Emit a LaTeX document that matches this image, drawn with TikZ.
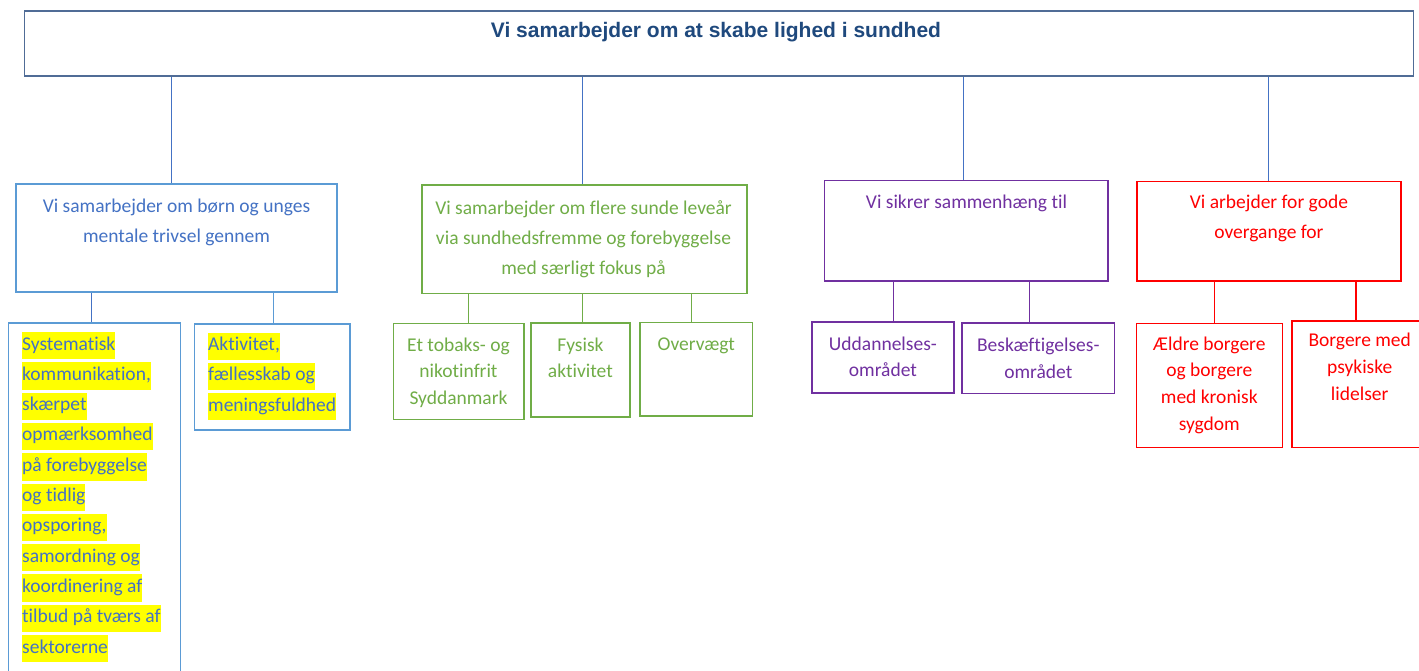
\documentclass[tikz,border=0pt]{standalone}
\usepackage{fontspec}
\setmainfont{Carlito}[Ligatures=NoCommon]
\newfontfamily\titlefont{Liberation Sans}
\definecolor{bluetxt}{RGB}{68,114,196}
\definecolor{blueline}{RGB}{91,155,213}
\definecolor{blueconn}{RGB}{68,114,196}
\definecolor{greenc}{RGB}{112,173,71}
\definecolor{purplec}{RGB}{112,48,160}
\definecolor{redc}{RGB}{255,0,0}
\definecolor{navy}{RGB}{31,73,125}
\definecolor{topline}{RGB}{80,108,150}
\definecolor{hl}{RGB}{255,255,0}
\begin{document}
\begin{tikzpicture}[x=1pt,y=-1pt,
  box/.style={draw, rectangle, inner sep=0pt, line width=1.6pt, fill=white},
  txt/.style={inner sep=0pt, anchor=base, font=\fontsize{19.5}{23}\selectfont},
  hltxt/.style={txt, anchor=base west, fill=hl, text height=18pt, text depth=9.3pt, text=bluetxt},
  conn/.style={line width=0.9pt},
  bluebox/.style={box, draw=blueline},
  greenbox/.style={box, draw=greenc},
  purplebox/.style={box, draw=purplec},
  redbox/.style={box, draw=redc},
]
\useasboundingbox[fill=white] (0,0) rectangle (1419,671);
\begin{scope}
\clip (0,0) rectangle (1419,671);
% top box
\node[box, draw=topline, line width=1.4pt, minimum width=1389pt, minimum height=65pt] (top) at (719,43.5) {};
\node[inner sep=0pt, anchor=base, font=\titlefont\bfseries\fontsize{21}{24}\selectfont, text=navy] (title) at (716,37.3) {Vi samarbejder om at skabe lighed i sundhed};

% level 2 boxes
\node[bluebox, minimum width=321pt, minimum height=108pt] (b1) at (176.5,238) {};
\node[greenbox, minimum width=325pt, minimum height=108.3pt] (g) at (584.2,239.2) {};
\node[purplebox, minimum width=283.5pt, minimum height=100pt] (p) at (966.3,230.7) {};
\node[redbox, minimum width=264pt, minimum height=99.3pt] (r) at (1268.9,231.3) {};

\foreach \t [count=\i from 0] in {Vi samarbejder om børn og unges, mentale trivsel gennem}
  \node[txt, text=bluetxt] (b1t\i) at (176.5,{212.7+\i*30}) {\t};
\foreach \t [count=\i from 0] in {Vi samarbejder om flere sunde leveår, via sundhedsfremme og forebyggelse, med særligt fokus på}
  \node[txt, text=greenc] (gt\i) at (583.5,{214.5+\i*30}) {\t};
\node[txt, text=purplec] (pt0) at (966.5,208.3) {Vi sikrer sammenhæng til};
\foreach \t [count=\i from 0] in {Vi arbejder for gode, overgange for}
  \node[txt, text=redc] (rt\i) at (1268.9,{208.3+\i*30}) {\t};

% level 3 boxes
\node[bluebox, minimum width=172pt, minimum height=377pt] (b11) at (94.3,511.5) {};
\node[bluebox, minimum width=155.7pt, minimum height=106pt] (b12) at (272.2,377) {};
\node[greenbox, minimum width=130.7pt, minimum height=96pt] (g1) at (458.7,371.3) {};
\node[greenbox, minimum width=99.3pt, minimum height=93.7pt] (g2) at (580.4,369.9) {};
\node[greenbox, minimum width=112.3pt, minimum height=93.4pt] (g3) at (696.2,369) {};
\node[purplebox, minimum width=142.2pt, minimum height=71pt] (p1) at (882.9,357.2) {};
\node[purplebox, minimum width=152.6pt, minimum height=70.6pt] (p2) at (1038.3,358) {};
\node[redbox, line width=1.3pt, minimum width=145.6pt, minimum height=124pt] (r1) at (1209.6,385.3) {};
\node[redbox, line width=1.3pt, minimum width=136pt, minimum height=126.3pt] (r2) at (1360,384.2) {};

\foreach \t [count=\i from 0] in {Systematisk, {kommunikation,}, skærpet, opmærksomhed, på forebyggelse, og tidlig, {opsporing,}, samordning og, koordinering af, tilbud på tværs af, sektorerne}
  \node[hltxt] (b11t\i) at (22,{350+\i*30.3}) {\t};
\foreach \t [count=\i from 0] in {{Aktivitet,}, fællesskab og, meningsfuldhed}
  \node[hltxt] (b12t\i) at (208,{350.5+\i*30.3}) {\t};
\foreach \t [count=\i from 0] in {Et tobaks- og, nikotinfrit, Syddanmark}
  \node[txt, text=greenc] (g1t\i) at (458.5,{351.5+\i*26.3}) {\t};
\foreach \t [count=\i from 0] in {Fysisk, aktivitet}
  \node[txt, text=greenc] (g2t\i) at (580.4,{351.5+\i*26.3}) {\t};
\node[txt, text=greenc] (g3t0) at (696.2,350) {Overvægt};
\foreach \t [count=\i from 0] in {Uddannelses-, området}
  \node[txt, text=purplec] (p1t\i) at (882.9,{350+\i*26.5}) {\t};
\foreach \t [count=\i from 0] in {Beskæftigelses-, området}
  \node[txt, text=purplec] (p2t\i) at (1038.3,{351.7+\i*26.5}) {\t};
\foreach \t [count=\i from 0] in {Ældre borgere, og borgere, med kronisk, sygdom}
  \node[txt, text=redc] (r1t\i) at (1209.3,{350+\i*26.7}) {\t};
\foreach \t [count=\i from 0] in {Borgere med, psykiske, lidelser}
  \node[txt, text=redc] (r2t\i) at (1359.7,{346.7+\i*26.7}) {\t};

% connector positions
\coordinate (c1) at (171,0);
\coordinate (c2) at (582,0);
\coordinate (c3) at (963,0);
\coordinate (c4) at (1268,0);
\coordinate (cb1) at (91.5,0);
\coordinate (cb2) at (273,0);
\coordinate (cg1) at (468,0);
\coordinate (cg2) at (582,0);
\coordinate (cg3) at (691.5,0);
\coordinate (cp1) at (893.5,0);
\coordinate (cp2) at (1029.5,0);
\coordinate (cr1) at (1214.5,0);
\coordinate (cr2) at (1356,0);

\draw[conn, blueconn] (top.south -| c1) -- (b1.north -| c1);
\draw[conn, blueconn] (top.south -| c2) -- (g.north -| c2);
\draw[conn, blueconn] (top.south -| c3) -- (p.north -| c3);
\draw[conn, blueconn] (top.south -| c4) -- (r.north -| c4);
\draw[conn, blueconn] (b1.south -| cb1) -- (b11.north -| cb1);
\draw[conn, blueline] (b1.south -| cb2) -- (b12.north -| cb2);
\draw[conn, greenc] (g.south -| cg1) -- (g1.north -| cg1);
\draw[conn, greenc] (g.south -| cg2) -- (g2.north -| cg2);
\draw[conn, greenc] (g.south -| cg3) -- (g3.north -| cg3);
\draw[conn, purplec] (p.south -| cp1) -- (p1.north -| cp1);
\draw[conn, purplec] (p.south -| cp2) -- (p2.north -| cp2);
\draw[conn, redc, line width=1.3pt] (r.south -| cr1) -- (r1.north -| cr1);
\draw[conn, redc, line width=1.3pt] (r.south -| cr2) -- (r2.north -| cr2);
\end{scope}
\end{tikzpicture}
\end{document}
